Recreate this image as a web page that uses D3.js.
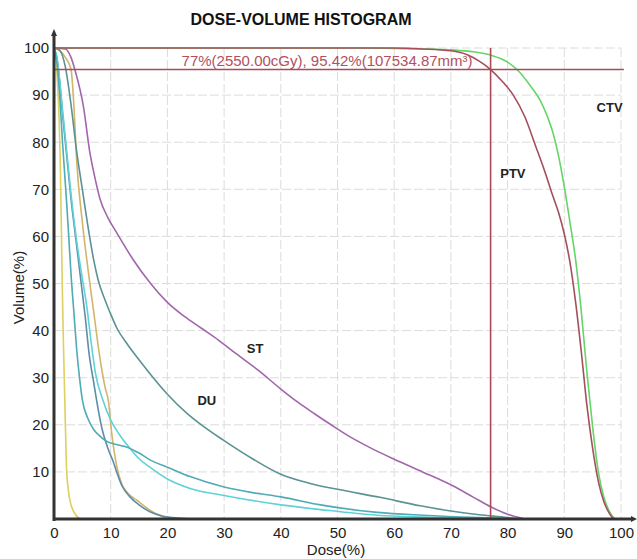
<!DOCTYPE html>
<html>
<head>
<meta charset="utf-8">
<script src="https://cdn.jsdelivr.net/npm/d3@7"></script>
<style>
  body { margin: 0; background: #fff; }
  svg { display: block; font-family: Arial, "Liberation Sans", sans-serif; }
</style>
</head>
<body>
<div class="vis-dvh"></div>
<script>
// tick values
const doseTicks = [0, 10, 20, 30, 40, 50, 60, 70, 80, 90, 100];
const volTicks = [10, 20, 30, 40, 50, 60, 70, 80, 90, 100];

// marker read-out
const markerDose = 77;
const markerVol = 95.42;
const markerText = "77%(2550.00cGy), 95.42%(107534.87mm³)";

// curves: [dose %, volume %]
const yellowCurve = [[0,100],[0.3,98],[0.6,93],[0.9,85],[1.1,76],[1.3,62],[1.45,50],[1.65,38],[1.9,25.3],[2.2,11],[2.5,6.5],[2.8,4],[3.5,1.5],[4.6,0]];
const tealCurve = [[0,100],[0.5,97],[1,90],[1.5,80],[2.2,67.7],[2.6,60],[3,52],[3.5,44],[4,36],[4.5,30],[5,25.3],[6,21.3],[7,19],[8.1,17.6],[9,16.7],[11,15.8],[13,15.2],[15,14],[17,12.5],[20,11],[24,9],[30,6.8],[35,5.6],[40,4.7],[47,3],[57,1.4],[65,0.8],[75,0.3],[84,0]];
const blueCurve = [[0,100],[0.5,98],[1,93],[1.5,86],[2,80],[2.5,74],[3,68],[4,58],[4.8,50],[5.5,43],[6.2,35],[7,29],[7.5,25.3],[8.5,19],[9.5,15],[10.5,12],[11.1,9.8],[12,7],[13.4,4.7],[15,3],[17,1.5],[19.3,0.6],[22,0.2],[24.5,0]];
const cyanCurve = [[0,100],[0.5,98],[1,93],[1.5,87],[2,81],[2.5,75],[3,69],[4,59],[5,51],[5.8,45],[6.5,38],[7.3,31],[8.6,25.3],[10,21],[11.5,18],[13.4,15],[15,12.8],[16.9,11],[20,8.5],[24,6.5],[30,5],[40,3],[47,2],[57,0.8],[65,0.4],[75,0.15],[82,0]];
const tanCurve = [[0,100],[1,99.5],[2,98],[3,95.5],[3.5,88],[4,76],[5,63],[6,53],[7,44],[8,35],[9,28],[9.6,25],[10.2,18],[11.1,11],[11.9,7.6],[13,5.5],[14.6,4],[17,1.8],[20,0]];
const duCurve = [[0,100],[1,99.5],[2,96],[3,88],[4,78],[5,70],[6,62],[7,55],[7.8,50.7],[9,46.5],[10,43.5],[11.1,40.5],[13,37],[15.2,33.5],[17.5,30],[20,26.5],[23.4,22.5],[26,20],[29.8,16.8],[35,12.8],[40,9.5],[45,7.6],[50,6.3],[57.5,4.6],[64.6,2.8],[70,1.7],[75,0.9],[80,0.3],[82,0]];
const stCurve = [[0,100],[2,99.8],[3,98],[3.7,95.3],[5.2,87.5],[6.3,78],[7.3,72],[8.1,68],[9.5,64],[11.1,60.7],[14,55],[16.9,50.2],[20,46],[23,43],[26,40.5],[29,38],[32,35.2],[36,31.6],[40,27.6],[43,24.8],[46,22.3],[49,19.9],[52,17.6],[56,15],[60,12.7],[65,10],[70.4,7],[74,4.6],[77,2.6],[80,1],[83,0]];
const ctvCurve = [[0,100],[55,100],[60,99.9],[65,99.8],[70,99.6],[74,99.2],[77,98.5],[80,97],[82,95],[84,92],[85.7,89],[87,85.5],[88,82],[89,77],[90,70.5],[91,63],[92,55],[93,44],[94,31],[95,19.5],[96,10],[97,4.5],[98,1.5],[98.9,0]];
const ptvCurve = [[0,100],[60,100],[65,99.8],[70,99.4],[73,98.5],[75,97.2],[77,95.42],[79,93],[81,90],[83,85.5],[85,79],[86.5,74],[88,68.5],[89,65],[90,60.5],[91,54.5],[92,46],[93,35.5],[94,24],[95,15],[96,8],[97,3.6],[98,1.1],[98.7,0]];

const curves = [
    {name: "yellow", data: yellowCurve, color: "#ddd060"},
    {name: "tan", data: tanCurve, color: "#d2b46c"},
    {name: "blue", data: blueCurve, color: "#5d8ea6"},
    {name: "cyan", data: cyanCurve, color: "#5fd2d8"},
    {name: "teal", data: tealCurve, color: "#4fabb5"},
    {name: "DU", data: duCurve, color: "#5b9294"},
    {name: "ST", data: stCurve, color: "#a266ac"},
    {name: "CTV", data: ctvCurve, color: "#66d466"},
    {name: "PTV", data: ptvCurve, color: "#a4505c"}
];

const labels = [
    {text: "CTV", dose: 95.7, vol: 86.5},
    {text: "PTV", dose: 78.7, vol: 72.5},
    {text: "ST", dose: 34, vol: 35.2},
    {text: "DU", dose: 25.3, vol: 24.2}
];

const W = 637, H = 559;
const margin = {top: 48, right: 16, bottom: 40, left: 54};
const chartWidth = W - margin.left - margin.right,
      chartHeight = H - margin.top - margin.bottom;
const markerColor = "#a84a58";

let svg = d3.select('.vis-dvh')
    .append("svg")
    .attr("width", W)
    .attr("height", H);

svg.append("rect").attr("width", W).attr("height", H).attr("fill", "#fff");

let xScale = d3.scaleLinear().domain([0, 100]).range([margin.left, margin.left + chartWidth]);
let yScale = d3.scaleLinear().domain([0, 100]).range([margin.top + chartHeight, margin.top]);

// grid
let grid = svg.append("g").attr("class", "grid");
grid.selectAll(".vgrid")
    .data(doseTicks.filter(d => d > 0))
    .enter().append("line")
    .attr("x1", d => xScale(d)).attr("x2", d => xScale(d))
    .attr("y1", yScale(100)).attr("y2", yScale(0))
    .attr("stroke", "#dcdcdc")
    .attr("stroke-dasharray", "9,3");
grid.selectAll(".hgrid")
    .data(volTicks)
    .enter().append("line")
    .attr("x1", xScale(0)).attr("x2", xScale(100))
    .attr("y1", d => yScale(d)).attr("y2", d => yScale(d))
    .attr("stroke", "#dcdcdc")
    .attr("stroke-dasharray", "9,3");

// curves
var lineGen = d3.line()
    .x(d => xScale(d[0]))
    .y(d => yScale(d[1]))
    .curve(d3.curveMonotoneX);

svg.append("g").attr("class", "content")
    .selectAll("path")
    .data(curves)
    .enter().append("path")
    .attr("d", d => lineGen(d.data))
    .attr("fill", "none")
    .attr("stroke", d => d.color)
    .attr("stroke-width", 1.6);

// marker lines
svg.append("line")
    .attr("x1", xScale(0)).attr("x2", xScale(100.5))
    .attr("y1", yScale(markerVol)).attr("y2", yScale(markerVol))
    .attr("stroke", markerColor).attr("stroke-width", 1.6);
svg.append("line")
    .attr("x1", xScale(markerDose)).attr("x2", xScale(markerDose))
    .attr("y1", yScale(100)).attr("y2", yScale(0))
    .attr("stroke", markerColor).attr("stroke-width", 1.6);
svg.append("text")
    .attr("x", xScale(markerDose) - 18)
    .attr("y", yScale(markerVol) - 4)
    .attr("text-anchor", "end")
    .attr("fill", "#b3505e")
    .style("font-size", "15px")
    .text(markerText);

// axes
let axisX = d3.axisBottom(xScale).tickValues(doseTicks).tickSize(0).tickPadding(8);
let axisY = d3.axisLeft(yScale).tickValues(volTicks).tickSize(0).tickPadding(5);

let axis_x = svg.append("g")
    .attr("transform", `translate(0, ${yScale(0)})`)
    .call(axisX);
let axis_y = svg.append("g")
    .attr("transform", `translate(${xScale(0)}, 0)`)
    .call(axisY);
[axis_x, axis_y].forEach(a => {
    a.select(".domain").remove();
    a.selectAll("text")
        .style("font-size", "15px")
        .style("font-family", "Arial, 'Liberation Sans', sans-serif")
        .attr("fill", "#222");
});

const axisColor = "#333";
svg.append("line")
    .attr("x1", xScale(0)).attr("x2", xScale(0))
    .attr("y1", yScale(0) + 2).attr("y2", yScale(100) - 14)
    .attr("stroke", axisColor).attr("stroke-width", 3);
svg.append("line")
    .attr("x1", xScale(0) - 1).attr("x2", xScale(100) + 11)
    .attr("y1", yScale(0)).attr("y2", yScale(0))
    .attr("stroke", axisColor).attr("stroke-width", 3);
svg.append("path")
    .attr("d", `M${xScale(0) - 3},${yScale(100) - 12} L${xScale(0)},${yScale(100) - 19} L${xScale(0) + 3},${yScale(100) - 12} Z`)
    .attr("fill", axisColor);
svg.append("path")
    .attr("d", `M${xScale(100) + 10},${yScale(0) - 3} L${xScale(100) + 16},${yScale(0)} L${xScale(100) + 10},${yScale(0) + 3} Z`)
    .attr("fill", axisColor);

// axis titles
svg.append("text")
    .attr("transform", `translate(24, ${yScale(50) + 4}) rotate(-90)`)
    .attr("text-anchor", "middle")
    .attr("fill", "#222")
    .style("font-size", "15px")
    .text("Volume(%)");
svg.append("text")
    .attr("x", 336)
    .attr("y", 555)
    .attr("text-anchor", "middle")
    .attr("fill", "#222")
    .style("font-size", "15px")
    .text("Dose(%)");

// title
svg.append("text")
    .attr("x", 301)
    .attr("y", 25)
    .attr("text-anchor", "middle")
    .attr("fill", "#111")
    .style("font-size", "16px")
    .style("font-weight", "bold")
    .text("DOSE-VOLUME HISTOGRAM");

// structure labels
svg.selectAll(".struct-label")
    .data(labels)
    .enter().append("text")
    .attr("class", "struct-label")
    .attr("x", d => xScale(d.dose))
    .attr("y", d => yScale(d.vol))
    .attr("fill", "#222")
    .style("font-size", "13px")
    .style("font-weight", "bold")
    .text(d => d.text);
</script>
</body>
</html>
